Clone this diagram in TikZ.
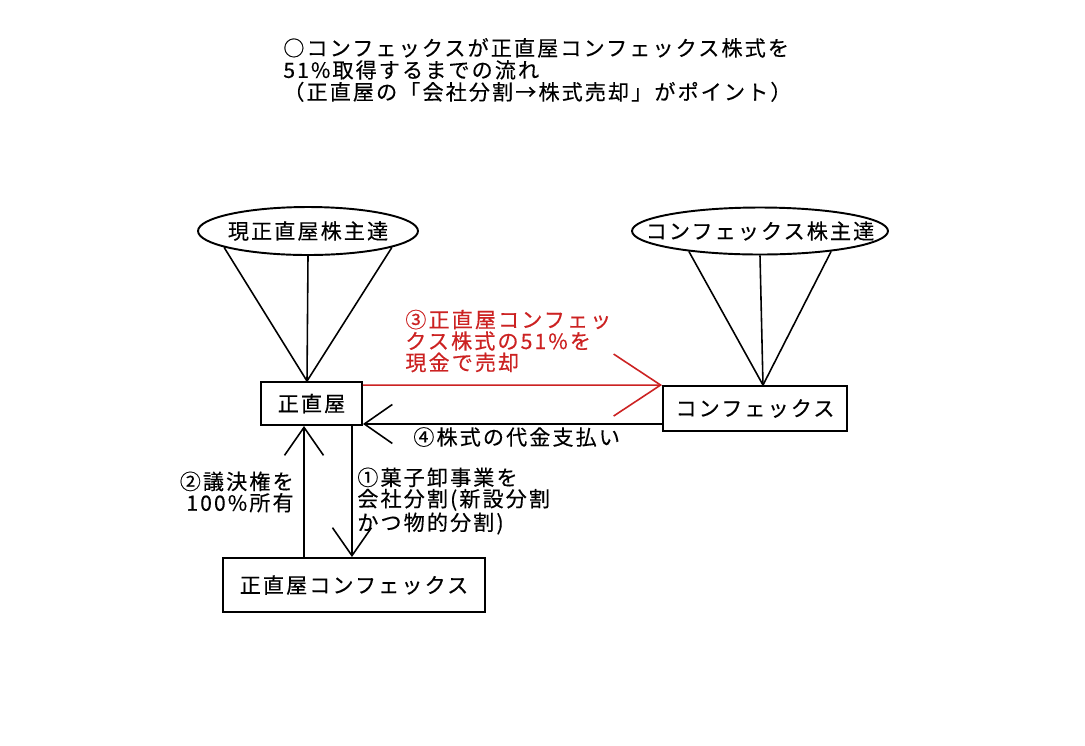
\documentclass[tikz,border=0pt]{standalone}
\usepackage{fontspec}
\setmainfont{Noto Sans CJK JP}[LetterSpace=10,FakeBold=0.3]
\usetikzlibrary{shapes.geometric,arrows.meta}
\definecolor{sellred}{RGB}{204,34,34}

\begin{document}
\begin{tikzpicture}[x=0.02cm,y=-0.02cm]
        \tikzstyle{firm} = [draw,line width=1.1pt,inner sep=0pt,font=\fontsize{12}{12.5}\selectfont]
        \tikzstyle{owners} = [draw,ellipse,line width=1.1pt,inner sep=0pt]
        \tikzstyle{note} = [inner sep=0pt,align=left,font=\fontsize{12}{12.5}\selectfont]
        \tikzstyle{link} = [line width=0.9pt]
        \tikzstyle{arr} = [line width=0.9pt,-{Straight Barb[length=0.56cm,width=0.78cm]}]
        \tikzstyle{redarr} = [line width=0.9pt,color=sellred,-{Straight Barb[length=0.94cm,width=1.24cm]}]

        \fill[white] (0,0) rectangle (1085,745);
        \useasboundingbox (0,0) rectangle (1085,745);

        % title
        \node[note,anchor=west] (title) at (283,70) {○コンフェックスが正直屋コンフェックス株式を\\51\%取得するまでの流れ\\（正直屋の「会社分割→株式売却」がポイント）};

        % the two groups of shareholders
        \node[owners,minimum width=4.4cm,minimum height=0.96cm] (oldowners) at (308,231) {};
        \node[note] (oldlabel) at (oldowners) {現正直屋株主達};
        \node[owners,minimum width=5.12cm,minimum height=0.94cm] (confowners) at (760,231) {};
        \node[note] (conflabel) at (confowners) {コンフェックス株主達};

        % the three companies
        \node[firm,minimum width=2.02cm,minimum height=0.86cm] (hon) at (311.5,403.5) {正直屋};
        \node[firm,minimum width=3.68cm,minimum height=0.9cm] (conf) at (755,408.5) {コンフェックス};
        \node[firm,minimum width=5.24cm,minimum height=1.08cm] (sub) at (354,585) {正直屋コンフェックス};

        \coordinate (honTop) at ([xshift=-0.09cm]hon.north);
        \coordinate (confTop) at ([xshift=0.16cm]conf.north);

        \draw[link] (oldowners.191) -- (honTop);
        \draw[link] (oldowners.south) -- (honTop);
        \draw[link] (oldowners.349) -- (honTop);

        \draw[link] (confowners.196) -- (confTop);
        \draw[link] (confowners.south) -- (confTop);
        \draw[link] (confowners.344) -- (confTop);

        % (3) sale and (4) payment
        \draw[redarr] ([yshift=-0.08cm]hon.north east) -- (conf.north west);
        \draw[arr] ([yshift=0.16cm]conf.south west) -- ([yshift=0.04cm]hon.south east);

        % (1) split and (2) voting rights
        \coordinate (upX) at ([xshift=-0.15cm]hon.south);
        \coordinate (downX) at ([xshift=-0.22cm]hon.south east);
        \draw[arr] (upX |- sub.north) -- (upX);
        \draw[arr] (downX) -- (downX |- sub.north);

        \node[note,text=sellred,anchor=west,font=\fontsize{12}{12.2}\selectfont] (sell) at (405,341) {③正直屋コンフェッ\\クス株式の51\%を\\現金で売却};
        \node[note,anchor=west] (pay) at (413,437) {④株式の代金支払い};
        \node[note,align=right,anchor=east,font=\fontsize{12}{10.6}\selectfont] (vote) at (294,492) {②議決権を\\100\%所有};
        \node[note,anchor=west,font=\fontsize{12}{10.4}\selectfont] (split) at (357,501) {①菓子卸事業を\\会社分割(新設分割\\かつ物的分割)};

\end{tikzpicture}
\end{document}
